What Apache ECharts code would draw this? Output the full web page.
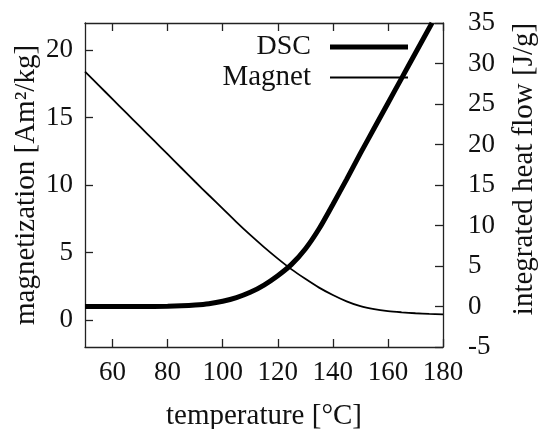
<!DOCTYPE html>
<html>
<head>
<meta charset="utf-8">
<script src="https://cdn.jsdelivr.net/npm/echarts@6/dist/echarts.min.js"></script>
<style>
  html, body { margin: 0; padding: 0; background: #fff; }
  #chart { width: 539px; height: 429px; }
</style>
</head>
<body>
<div id="chart"></div>
<script>
// temperature in degC
var magnetTemps = [50, 55, 60, 65, 70, 75, 80, 85, 90, 95, 100, 105, 110, 115, 120, 125, 130, 135, 140, 145, 150, 155, 160, 165, 170, 175, 180];
// magnetization, Am^2/kg (left axis)
var magnetValues = [18.4, 17.38, 16.36, 15.34, 14.32, 13.3, 12.28, 11.26, 10.24, 9.24, 8.25, 7.25, 6.3, 5.4, 4.55, 3.75, 3.05, 2.4, 1.85, 1.38, 1.02, 0.8, 0.66, 0.57, 0.5, 0.45, 0.42];

var dscTemps = [50, 60, 70, 80, 85, 90, 95, 100, 105, 110, 115, 120, 125, 130, 135, 140, 145, 150, 155, 160, 165, 170, 176];
// integrated heat flow, J/g (right axis)
var dscValues = [0, 0, 0, 0.03, 0.08, 0.18, 0.35, 0.65, 1.1, 1.75, 2.65, 3.8, 5.2, 7.1, 9.6, 12.6, 15.7, 18.9, 22.0, 25.1, 28.2, 31.3, 35];

var xTicks = [60, 80, 100, 120, 140, 160, 180];
var leftTicks = [0, 5, 10, 15, 20];

var font = 'Liberation Serif';
var ink = '#111';

function pairs(xs, ys) {
    var out = [];
    for (var i = 0; i < xs.length; i++) {
        out.push([xs[i], ys[i]]);
    }
    return out;
}

var frame = { show: true, onZero: false, lineStyle: { color: '#222', width: 1.3 } };
var tick = { show: true, inside: true, length: 8, lineStyle: { color: '#222', width: 1.3 } };

var option = {
    animation: false,
    backgroundColor: '#fff',
    grid: { left: 85, right: 96, top: 23, bottom: 82, outerBoundsMode: 'none', containLabel: false },
    legend: [
        {
            data: ['DSC'],
            right: 131,
            top: 33,
            padding: 0,
            align: 'right',
            icon: 'rect',
            itemWidth: 78,
            itemHeight: 5,
            selectedMode: false,
            textStyle: { fontFamily: font, fontSize: 28, color: ink, padding: [0, 14, 0, 0] }
        },
        {
            data: ['Magnet'],
            right: 131,
            top: 63,
            padding: 0,
            align: 'right',
            icon: 'rect',
            itemWidth: 78,
            itemHeight: 2,
            selectedMode: false,
            textStyle: { fontFamily: font, fontSize: 29, color: ink, padding: [0, 14, 0, 0] }
        }
    ],
    xAxis: [
        {
            type: 'value',
            position: 'bottom',
            min: 50,
            max: 180,
            name: 'temperature [°C]',
            nameLocation: 'middle',
            nameGap: 55,
            nameMoveOverlap: false,
            nameTextStyle: { fontFamily: font, fontSize: 29, color: ink },
            axisLine: frame,
            axisTick: Object.assign({}, tick, { customValues: xTicks }),
            axisLabel: { customValues: xTicks, margin: 12, fontFamily: font, fontSize: 27, color: ink },
            splitLine: { show: false }
        },
        {
            type: 'value',
            position: 'top',
            min: 50,
            max: 180,
            axisLine: frame,
            axisTick: Object.assign({}, tick, { customValues: xTicks }),
            axisLabel: { show: false },
            splitLine: { show: false }
        }
    ],
    yAxis: [
        {
            type: 'value',
            position: 'left',
            min: -2,
            max: 22,
            name: 'magnetization [Am²/kg]',
            nameLocation: 'middle',
            nameRotate: 90,
            nameGap: 44,
            nameMoveOverlap: false,
            nameTextStyle: { fontFamily: font, fontSize: 29, color: ink },
            axisLine: frame,
            axisTick: Object.assign({}, tick, { customValues: leftTicks }),
            axisLabel: { customValues: leftTicks, margin: 12, fontFamily: font, fontSize: 27, color: ink },
            splitLine: { show: false }
        },
        {
            type: 'value',
            position: 'right',
            min: -5,
            max: 35,
            interval: 5,
            name: 'integrated heat flow [J/g]',
            nameLocation: 'middle',
            nameRotate: 90,
            nameGap: 67,
            nameMoveOverlap: false,
            nameTextStyle: { fontFamily: font, fontSize: 29, color: ink, padding: [0, 0, 0, 32] },
            axisLine: frame,
            axisTick: tick,
            axisLabel: { margin: 25, align: 'left', fontFamily: font, fontSize: 27, color: ink },
            splitLine: { show: false }
        }
    ],
    series: [
        {
            name: 'DSC',
            type: 'line',
            xAxisIndex: 0,
            yAxisIndex: 1,
            data: pairs(dscTemps, dscValues),
            smooth: 0.3,
            showSymbol: false,
            color: '#000',
            lineStyle: { color: '#000', width: 5 }
        },
        {
            name: 'Magnet',
            type: 'line',
            xAxisIndex: 0,
            yAxisIndex: 0,
            data: pairs(magnetTemps, magnetValues),
            smooth: 0.3,
            showSymbol: false,
            color: '#000',
            lineStyle: { color: '#000', width: 1.8 }
        }
    ]
};

echarts.init(document.getElementById('chart')).setOption(option);
</script>
</body>
</html>
